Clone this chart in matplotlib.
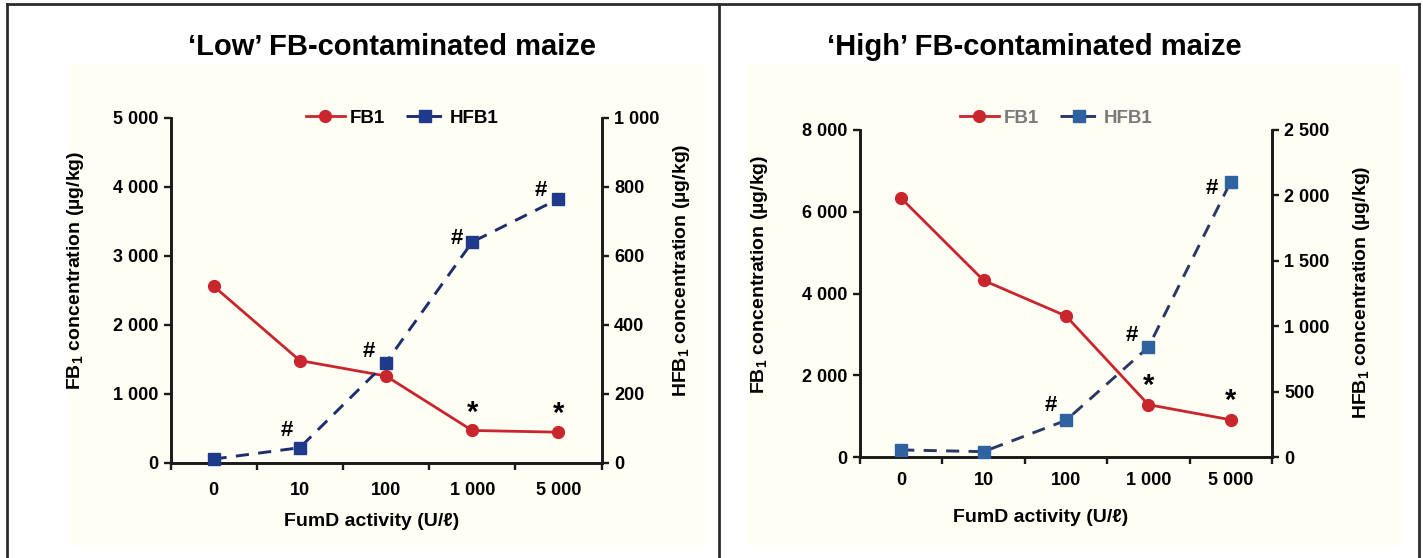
import matplotlib
matplotlib.use("Agg")
import matplotlib.pyplot as plt
from matplotlib.lines import Line2D
from matplotlib.patches import Rectangle

plt.rcParams['font.family'] = ['Liberation Sans', 'DejaVu Sans']
plt.rcParams['font.weight'] = 'bold'
plt.rcParams['mathtext.fontset'] = 'custom'
plt.rcParams['mathtext.rm'] = 'Liberation Sans:bold'
plt.rcParams['mathtext.bf'] = 'Liberation Sans:bold'

# ---- data ----
categories = ["0", "10", "100", "1 000", "5 000"]

low_fb1 = [2560, 1480, 1255, 465, 440]
low_hfb1 = [10, 43, 290, 640, 765]
low_hash = [False, True, True, True, True]
low_star = [False, False, False, True, True]

high_fb1 = [6330, 4320, 3450, 1280, 910]
high_hfb1 = [54, 41, 280, 840, 2105]
high_hash = [False, False, True, True, True]
high_star = [False, False, False, True, True]

low_left_ticks = [0, 1000, 2000, 3000, 4000, 5000]
low_right_ticks = [0, 200, 400, 600, 800, 1000]
high_left_ticks = [0, 2000, 4000, 6000, 8000]
high_right_ticks = [0, 500, 1000, 1500, 2000, 2500]

W, H = 1423, 558
fig = plt.figure(figsize=(W / 100, H / 100), dpi=100)
fig.patch.set_facecolor('white')


def fx(px):
    return px / W


def fy(py):
    return (H - py) / H


def fmt(v):
    return f"{int(v):,}".replace(",", " ")


RED = '#c9252c'
SPINE = '#1a1a1a'
MU = '\u00b5'

# cream panel backgrounds
for (x0, y0, x1, y1) in [(68, 65, 705, 545), (747, 65, 1401, 545)]:
    fig.add_artist(Rectangle((fx(x0), fy(y1)), fx(x1 - x0), (y1 - y0) / H,
                             transform=fig.transFigure, facecolor='#fefef4',
                             edgecolor='none', zorder=0))

# outer frame
frame_kw = dict(color='#2b2b2b', lw=2.0, transform=fig.transFigure, zorder=5)
fig.add_artist(Line2D([fx(7), fx(1419)], [fy(4), fy(4)], **frame_kw))
fig.add_artist(Line2D([fx(7), fx(7)], [fy(4), 0], **frame_kw))
fig.add_artist(Line2D([fx(1419), fx(1419)], [fy(4), 0], **frame_kw))
fig.add_artist(Line2D([fx(719), fx(719)], [fy(4), 0], **frame_kw))


def panel(rect_px, fb1, hfb1, lticks, rticks, hashes, stars, title, title_xy,
          xlab_xy, ylab_l, ylab_r, legend_xy, hfb_line, hfb_marker, legend_text,
          hash_off, star_off, xtick_pad):
    x0, x1, ytop, ybot = rect_px
    ax = fig.add_axes([fx(x0), fy(ybot), fx(x1 - x0), (ybot - ytop) / H])
    ax.set_zorder(2)
    ax.set_facecolor('none')
    ax2 = ax.twinx()
    ax2.set_zorder(3)
    ax2.set_facecolor('none')
    xs = list(range(len(categories)))

    l1, = ax.plot(xs, fb1, color=RED, lw=2.0, marker='o', markersize=8.5,
                  markerfacecolor=RED, markeredgecolor=RED, zorder=3, clip_on=False)
    l2, = ax2.plot(xs, hfb1, color=hfb_line, lw=2.1, ls=(0, (4.5, 3.2)),
                   marker='s', markersize=8.5, markerfacecolor=hfb_marker,
                   markeredgecolor=hfb_marker, zorder=3, clip_on=False)

    ax.set_xlim(-0.5, len(categories) - 0.5)
    ax.set_ylim(lticks[0], lticks[-1])
    ax2.set_ylim(rticks[0], rticks[-1])

    ax.set_yticks(lticks)
    ax.set_yticklabels([fmt(v) for v in lticks])
    ax2.set_yticks(rticks)
    ax2.set_yticklabels([fmt(v) for v in rticks])
    ax.set_xticks(xs)
    ax.set_xticklabels(categories)
    ax.set_xticks([i - 0.5 for i in range(len(categories) + 1)], minor=True)

    for a in (ax, ax2):
        a.spines['top'].set_visible(False)
        for s in ('left', 'right', 'bottom'):
            a.spines[s].set_linewidth(1.9)
            a.spines[s].set_color(SPINE)
    ax.tick_params(axis='x', which='major', length=0, pad=xtick_pad, labelsize=13)
    ax.tick_params(axis='x', which='minor', length=5, width=1.7, direction='out', color=SPINE)
    ax.tick_params(axis='y', length=5, width=1.7, direction='out', pad=4, labelsize=13, color=SPINE)
    ax2.tick_params(axis='y', length=5, width=1.7, direction='out', pad=4, labelsize=13, color=SPINE)

    # significance markers
    for i, (flag, v) in enumerate(zip(hashes, hfb1)):
        if flag:
            ax2.annotate('#', (i, v), xytext=hash_off[i], textcoords='offset pixels',
                         ha='center', va='center', fontsize=16, fontweight='bold')
    for i, (flag, v) in enumerate(zip(stars, fb1)):
        if flag:
            ax.annotate('*', (i, v), xytext=star_off, textcoords='offset pixels',
                        ha='center', va='center', fontsize=21, fontweight='bold')

    fig.text(fx(title_xy[0]), fy(title_xy[1]), title, ha='center', va='center',
             fontsize=21, fontweight='bold')
    fig.text(fx(xlab_xy[0]), fy(xlab_xy[1]), 'FumD activity (U/\u2113)', ha='center',
             va='center', fontsize=14, fontweight='bold')
    fig.text(fx(ylab_l[0]), fy(ylab_l[1]), r'FB$_\mathbf{1}$ concentration (' + MU + 'g/kg)',
             rotation=90, ha='center', va='center', fontsize=14, fontweight='bold')
    fig.text(fx(ylab_r[0]), fy(ylab_r[1]), r'HFB$_\mathbf{1}$ concentration (' + MU + 'g/kg)',
             rotation=90, ha='center', va='center', fontsize=14, fontweight='bold')

    ax.legend([l1, l2], ['FB1', 'HFB1'], loc='center',
              bbox_to_anchor=(fx(legend_xy[0]), fy(legend_xy[1])),
              bbox_transform=fig.transFigure, ncol=2, frameon=False,
              handlelength=2.1, handletextpad=0.25, columnspacing=1.1,
              prop=dict(weight='bold', size=13.5), labelcolor=legend_text)
    return ax


panel((170.5, 601.5, 118, 462.5), low_fb1, low_hfb1, low_left_ticks, low_right_ticks,
      low_hash, low_star, "\u2018Low\u2019 FB-contaminated maize", (392, 47),
      (372, 521), (76, 270), (681, 270), (402, 118), '#1e2d6e', '#1f3a8a', 'black',
      [(-14, 14), (-13, 17), (-17, 11), (-15, 4), (-18, 8)], (0, 18), 14)

panel((860, 1272, 130, 457), high_fb1, high_hfb1, high_left_ticks, high_right_ticks,
      high_hash, high_star, "\u2018High\u2019 FB-contaminated maize", (1034, 47),
      (1041, 518), (760, 274), (1362, 292), (1056, 118), '#2a3866', '#2f62a0', '#7a7a7a',
      [(-14, 12), (-14, 12), (-15, 15), (-17, 12), (-19, -7)], (0, 19), 11)

fig.savefig('out.png', dpi=100)
